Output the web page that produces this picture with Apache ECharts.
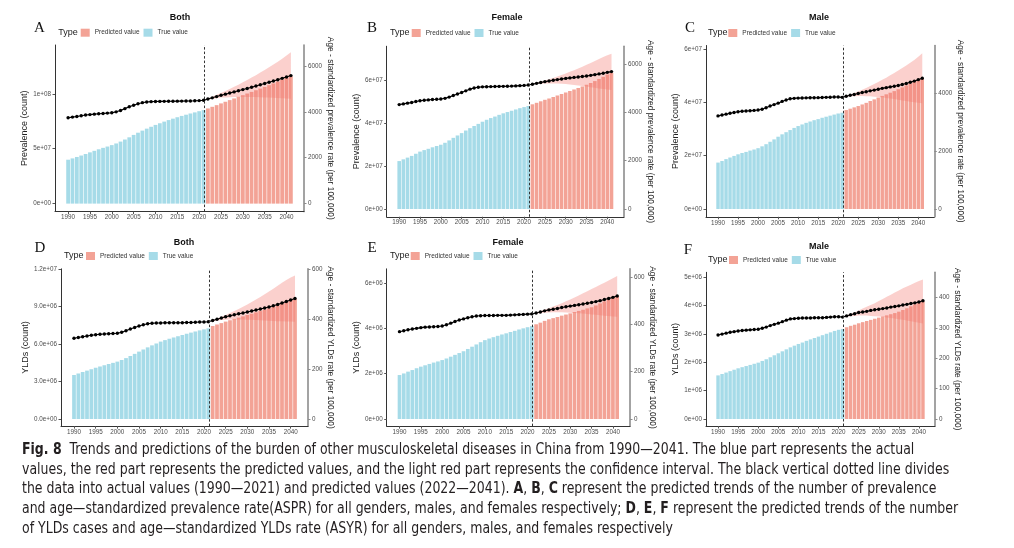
<!DOCTYPE html>
<html>
<head>
<meta charset="utf-8">
<script src="https://cdn.jsdelivr.net/npm/echarts@6/dist/echarts.min.js"></script>
<style>
html, body { margin: 0; padding: 0; background: #fff; }
#chart { width: 1014px; height: 548px; }
</style>
</head>
<body>
<div id="chart"></div>
<script>
// years
const trueYears = [1990,1991,1992,1993,1994,1995,1996,1997,1998,1999,2000,2001,2002,2003,2004,2005,2006,2007,2008,2009,2010,2011,2012,2013,2014,2015,2016,2017,2018,2019,2020,2021];
const predYears = [2022,2023,2024,2025,2026,2027,2028,2029,2030,2031,2032,2033,2034,2035,2036,2037,2038,2039,2040,2041];
const allYears = trueYears.concat(predYears);
const yearTicks = [1990,1995,2000,2005,2010,2015,2020,2025,2030,2035,2040];

// prevalence counts (millions)
const prevBothTrue = [40.0,41.2,42.5,43.8,45.2,46.7,48.1,49.5,50.8,52.0,53.3,54.8,56.5,58.4,60.4,62.6,64.6,66.5,68.3,70.0,71.7,73.2,74.7,76.1,77.4,78.7,79.9,81.0,82.1,83.1,84.2,85.2];
const prevBothPred = [86.7,88.2,89.7,91.3,92.8,94.3,95.8,97.3,98.8,100.3,101.8,103.3,104.8,106.3,107.9,109.5,111.1,112.8,114.5,116.1];
const prevFemaleTrue = [22.3,23.1,23.9,24.7,25.7,26.7,27.4,28.0,28.7,29.3,29.9,30.8,31.9,33.1,34.2,35.3,36.5,37.6,38.6,39.6,40.6,41.5,42.3,43.0,43.8,44.5,45.1,45.7,46.3,46.9,47.4,47.9];
const prevFemalePred = [48.7,49.4,50.1,50.8,51.4,52.1,52.8,53.5,54.2,54.9,55.6,56.3,57.0,57.8,58.6,59.5,60.5,61.5,62.6,63.4];
const prevMaleTrue = [17.4,18.0,18.7,19.3,19.9,20.5,21.0,21.4,21.9,22.3,22.8,23.5,24.3,25.2,26.1,27.1,28.0,28.8,29.6,30.4,31.1,31.7,32.3,32.8,33.3,33.7,34.2,34.6,35.0,35.4,35.8,36.1];
const prevMalePred = [37.1,37.6,38.1,38.6,39.2,39.8,40.5,41.1,41.8,42.4,43.0,43.6,44.2,44.9,45.6,46.3,47.0,47.7,48.4,49.0];

// age-standardized prevalence rate (per 100,000), 1990-2041, and CI for 2022-2041
const asprBoth = [3740,3770,3800,3830,3860,3880,3900,3915,3930,3945,3960,4000,4060,4140,4220,4290,4350,4400,4430,4445,4450,4455,4458,4460,4462,4465,4468,4470,4475,4480,4490,4505,4560,4610,4665,4720,4770,4820,4870,4920,4970,5020,5070,5125,5180,5235,5290,5345,5400,5460,5520,5580];
const asprBothUp = [4580,4660,4740,4820,4910,5000,5090,5185,5285,5390,5495,5600,5710,5825,5940,6060,6180,6310,6460,6600];
const asprBothLow = [4540,4560,4590,4620,4630,4640,4650,4650,4650,4650,4650,4645,4640,4630,4620,4610,4600,4590,4580,4565];
const asprFemale = [4320,4350,4380,4410,4450,4480,4500,4515,4530,4540,4555,4580,4630,4700,4760,4820,4890,4960,5010,5040,5055,5062,5066,5070,5073,5076,5080,5085,5095,5105,5115,5130,5165,5200,5235,5270,5300,5330,5355,5380,5405,5425,5445,5465,5485,5505,5530,5560,5590,5620,5655,5685];
const asprFemaleUp = [5170,5215,5265,5315,5370,5425,5485,5545,5610,5675,5745,5815,5890,5965,6045,6125,6205,6285,6360,6420];
const asprFemaleLow = [5160,5170,5180,5190,5195,5195,5190,5180,5170,5150,5130,5110,5090,5065,5040,5015,4990,4965,4945,4925];
const asprMale = [3210,3240,3270,3300,3330,3355,3370,3380,3390,3400,3415,3440,3490,3550,3600,3650,3710,3760,3800,3815,3825,3830,3832,3835,3837,3840,3845,3850,3855,3860,3860,3850,3890,3920,3950,3985,4015,4045,4075,4100,4130,4160,4185,4210,4235,4260,4295,4330,4370,4410,4460,4510];
const asprMaleUp = [3900,3950,4000,4055,4115,4175,4240,4310,4380,4455,4530,4610,4690,4775,4860,4950,5040,5135,5250,5370];
const asprMaleLow = [3880,3885,3890,3895,3895,3890,3885,3875,3865,3850,3830,3810,3790,3765,3740,3720,3700,3680,3660,3645];

// YLDs counts (millions)
const yldBothTrue = [3.52,3.64,3.76,3.87,3.98,4.10,4.20,4.30,4.40,4.49,4.59,4.72,4.87,5.04,5.21,5.39,5.56,5.73,5.89,6.04,6.19,6.31,6.42,6.52,6.62,6.72,6.82,6.91,7.00,7.09,7.17,7.25];
const yldBothPred = [7.44,7.56,7.67,7.79,7.90,8.01,8.11,8.21,8.32,8.42,8.53,8.63,8.74,8.85,8.97,9.10,9.23,9.37,9.52,9.62];
const yldFemaleTrue = [1.94,2.01,2.09,2.16,2.24,2.31,2.37,2.43,2.49,2.54,2.60,2.67,2.75,2.83,2.91,2.99,3.09,3.19,3.29,3.39,3.48,3.55,3.61,3.67,3.73,3.78,3.84,3.89,3.95,4.00,4.05,4.10];
const yldFemalePred = [4.18,4.25,4.33,4.40,4.45,4.50,4.56,4.61,4.66,4.72,4.77,4.82,4.88,4.93,5.01,5.10,5.19,5.28,5.37,5.43];
const yldMaleTrue = [1.54,1.59,1.64,1.69,1.74,1.79,1.83,1.87,1.91,1.95,1.99,2.05,2.11,2.18,2.25,2.32,2.39,2.46,2.53,2.59,2.65,2.70,2.76,2.81,2.86,2.91,2.96,3.01,3.06,3.11,3.15,3.18];
const yldMalePred = [3.24,3.29,3.33,3.38,3.42,3.46,3.50,3.54,3.58,3.62,3.66,3.70,3.74,3.79,3.85,3.91,3.98,4.05,4.12,4.16];

// age-standardized YLDs rate (per 100,000)
const asyrBoth = [323,326,329,332,335,337,339,340,341,342,343,347,353,360,366,372,377,381,383,384,384,385,385,385,385,385,386,386,387,388,388,389,394,399,404,409,413,417,421,424,428,432,436,440,444,448,453,458,464,470,476,482];
const asyrBothUp = [395,402,409,416,424,432,440,449,458,468,478,488,499,510,521,533,545,556,566,574];
const asyrBothLow = [392,394,396,397,398,398,398,398,397,397,396,395,394,393,392,391,391,390,390,389];
const asyrFemale = [369,373,377,380,383,386,388,389,390,391,393,398,405,412,418,423,428,432,435,436,437,437,437,438,438,438,439,440,441,442,443,444,448,452,457,461,464,467,471,474,477,480,483,486,489,492,496,500,505,509,514,520];
const asyrFemaleUp = [450,456,462,468,475,482,489,497,505,513,522,531,540,549,558,567,576,585,595,604];
const asyrFemaleLow = [446,447,449,450,451,451,451,450,449,448,447,446,444,442,440,438,436,435,433,432];
const asyrMale = [277,280,283,286,288,290,292,293,294,295,296,299,303,308,312,316,321,326,330,331,332,333,333,333,334,334,334,335,336,337,337,336,340,344,347,351,353,355,358,360,362,364,366,369,371,373,376,378,381,383,386,390];
const asyrMaleUp = [341,347,352,358,364,370,376,382,389,396,403,410,417,424,431,437,443,449,455,460];
const asyrMaleLow = [338,339,340,341,341,341,340,339,338,337,335,333,331,329,327,325,322,320,317,315];

// tick values and labels
const prevTicksBoth = [0, 50, 100];
const prevLabelsBoth = ['0e+00', '5e+07', '1e+08'];
const prevTicksSex = [0, 20, 40, 60];
const prevLabelsSex = ['0e+00', '2e+07', '4e+07', '6e+07'];
const yldTicksBoth = [0, 3, 6, 9, 12];
const yldLabelsBoth = ['0.0e+00', '3.0e+06', '6.0e+06', '9.0e+06', '1.2e+07'];
const yldTicksFemale = [0, 2, 4, 6];
const yldLabelsFemale = ['0e+00', '2e+06', '4e+06', '6e+06'];
const yldTicksMale = [0, 1, 2, 3, 4, 5];
const yldLabelsMale = ['0e+00', '1e+06', '2e+06', '3e+06', '4e+06', '5e+06'];
const asprTicks = [0, 2000, 4000, 6000];
const asprTicksMale = [0, 2000, 4000];
const asyrTicks = [0, 200, 400, 600];
const asyrTicksMale = [0, 100, 200, 300, 400];

const legendNames = ['Predicted value', 'True value'];
const splitYear = 2021.2;

const prevRateName = 'Age - standardized prevalence rate (per 100,000)';
const yldRateName = 'Age - standardized YLDs rate (per 100,000)';

const panels = [
  {letter: 'A', title: 'Both', bars: [prevBothTrue, prevBothPred], rate: asprBoth, up: asprBothUp, low: asprBothLow,
    lt: prevTicksBoth, ll: prevLabelsBoth, rt: asprTicks, lname: 'Prevalence (count)', rname: prevRateName,
    box: [55, 45, 249, 166.6], ly: [-7.27, 144.5], ry: [-348, 6913], gap: [20, 18.5],
    letterXY: [39.5, 28], titleXY: [180, 18], typeXY: [58.3, 32.7], legendXY: [80.7, 28.7]},
  {letter: 'B', title: 'Female', bars: [prevFemaleTrue, prevFemalePred], rate: asprFemale, up: asprFemaleUp, low: asprFemaleLow,
    lt: prevTicksSex, ll: prevLabelsSex, rt: asprTicks, lname: 'Prevalence (count)', rname: prevRateName,
    box: [386.7, 46.25, 237.3, 170.5], ly: [-3.6, 75.7], ry: [-320.7, 6735], gap: [21.5, 21.5],
    letterXY: [372, 28], titleXY: [507, 18], typeXY: [390, 33], legendXY: [411.7, 29]},
  {letter: 'C', title: 'Male', bars: [prevMaleTrue, prevMalePred], rate: asprMale, up: asprMaleUp, low: asprMaleLow,
    lt: prevTicksSex, ll: prevLabelsSex, rt: asprTicksMale, lname: 'Prevalence (count)', rname: prevRateName,
    box: [706, 45.5, 228.3, 171.3], ly: [-2.93, 61.3], ry: [-269, 5638], gap: [21.5, 14.5],
    letterXY: [690, 28], titleXY: [819, 18], typeXY: [708, 33], legendXY: [728.3, 29]},
  {letter: 'D', title: 'Both', bars: [yldBothTrue, yldBothPred], rate: asyrBoth, up: asyrBothUp, low: asyrBothLow,
    lt: yldTicksBoth, ll: yldLabelsBoth, rt: asyrTicks, lname: 'YLDs (count)', rname: yldRateName,
    box: [61, 268.85, 247, 157.3], ly: [-0.572, 12.01], ry: [-28.6, 600.6], gap: [27.5, 15.5],
    letterXY: [40, 248], titleXY: [184, 243], typeXY: [64, 256], legendXY: [86, 252]},
  {letter: 'E', title: 'Female', bars: [yldFemaleTrue, yldFemalePred], rate: asyrFemale, up: asyrFemaleUp, low: asyrFemaleLow,
    lt: yldTicksFemale, ll: yldLabelsFemale, rt: asyrTicks, lname: 'YLDs (count)', rname: yldRateName,
    box: [386.7, 268.85, 243.3, 157.3], ly: [-0.3155, 6.625], ry: [-30.2, 634.4], gap: [21.5, 15.5],
    letterXY: [372, 248], titleXY: [508, 243], typeXY: [390, 256], legendXY: [410.7, 252]},
  {letter: 'F', title: 'Male', bars: [yldMaleTrue, yldMalePred], rate: asyrMale, up: asyrMaleUp, low: asyrMaleLow,
    lt: yldTicksMale, ll: yldLabelsMale, rt: asyrTicksMale, lname: 'YLDs (count)', rname: yldRateName,
    box: [706, 272.3, 229, 153.7], ly: [-0.247, 5.18], ry: [-23.1, 483.7], gap: [20, 13.5],
    letterXY: [688, 250], titleXY: [819, 246.7], typeXY: [708, 260], legendXY: [729, 256]}
];

const sansFont = "'Liberation Sans', Arial, sans-serif";
const capFont = "'Liberation Sans Narrow', 'DejaVu Sans Condensed', 'Liberation Sans', sans-serif";
const blue = '#a6dbe8';
const red = '#f3a396';
const bandFill = 'rgba(242,118,108,0.34)';
const tickColor = '#4d4d4d';

const grids = [], xAxes = [], yAxes = [], series = [], legends = [], graphics = [];

const pairs = (xs, ys) => xs.map((x, k) => [x, ys[k]]);

panels.forEach((p, i) => {
  grids.push({left: p.box[0], top: p.box[1], width: p.box[2], height: p.box[3], containLabel: false});
  xAxes.push({
    type: 'value', gridIndex: i, min: 1987, max: 2044,
    axisLine: {show: true, onZero: false, lineStyle: {color: '#333', width: 1}},
    axisTick: {show: true, length: 2.5, customValues: yearTicks, lineStyle: {color: '#555'}},
    axisLabel: {customValues: yearTicks, margin: 3, fontSize: 6.3, color: tickColor, fontFamily: sansFont,
      formatter: v => String(v)},
    splitLine: {show: false}
  });
  yAxes.push({
    type: 'value', gridIndex: i, position: 'left', min: p.ly[0], max: p.ly[1],
    name: p.lname, nameLocation: 'middle', nameRotate: 90, nameGap: p.gap[0],
    nameTextStyle: {fontSize: 9, color: '#222', fontFamily: sansFont},
    axisLine: {show: true, onZero: false, lineStyle: {color: '#333', width: 1}},
    axisTick: {show: true, length: 2.5, customValues: p.lt, lineStyle: {color: '#555'}},
    axisLabel: {customValues: p.lt, margin: 4, fontSize: 6.3, color: tickColor, fontFamily: sansFont,
      formatter: v => p.ll[p.lt.indexOf(v)]},
    splitLine: {show: false}
  });
  yAxes.push({
    type: 'value', gridIndex: i, position: 'right', min: p.ry[0], max: p.ry[1],
    name: p.rname, nameLocation: 'middle', nameRotate: -90, nameGap: p.gap[1],
    nameTextStyle: {fontSize: 8.4, color: '#222', fontFamily: sansFont},
    axisLine: {show: true, onZero: false, lineStyle: {color: '#8c8c8c', width: 1.6}},
    axisTick: {show: true, length: 2.5, customValues: p.rt, lineStyle: {color: '#8c8c8c'}},
    axisLabel: {customValues: p.rt, margin: 4, fontSize: 6.3, color: tickColor, fontFamily: sansFont,
      formatter: v => String(v)},
    splitLine: {show: false}
  });

  series.push({
    type: 'bar', name: 'True value', xAxisIndex: i, yAxisIndex: 2 * i,
    data: pairs(trueYears, p.bars[0]), barWidth: '86%', barGap: '-100%',
    itemStyle: {color: blue},
    markLine: {
      silent: true, symbol: 'none', label: {show: false},
      lineStyle: {color: '#333', type: [2.5, 2], width: 1},
      data: [{xAxis: splitYear}]
    }
  });
  series.push({
    type: 'bar', name: 'Predicted value', xAxisIndex: i, yAxisIndex: 2 * i,
    data: pairs(predYears, p.bars[1]), barWidth: '86%', barGap: '-100%',
    itemStyle: {color: red}
  });
  series.push({
    type: 'custom', name: 'CI', xAxisIndex: i, yAxisIndex: 2 * i + 1, silent: true, z: 3,
    data: predYears.map((y, k) => [y, p.low[k], p.up[k]]),
    encode: {x: 0, y: [1, 2]},
    renderItem: (params, api) => {
      if (params.dataIndex !== 0) return;
      const pts = [];
      predYears.forEach((y, k) => pts.push(api.coord([y, p.up[k]])));
      for (let k = predYears.length - 1; k >= 0; k--) pts.push(api.coord([predYears[k], p.low[k]]));
      return {type: 'polygon', shape: {points: pts}, style: {fill: bandFill}};
    }
  });
  series.push({
    type: 'line', name: 'rate', xAxisIndex: i, yAxisIndex: 2 * i + 1, z: 4,
    data: pairs(allYears, p.rate), symbol: 'circle', symbolSize: 3.4,
    itemStyle: {color: '#000'}, lineStyle: {color: '#000', width: 1.1}
  });

  legends.push({
    data: legendNames, left: p.legendXY[0], top: p.legendXY[1], padding: 0,
    itemWidth: 9, itemHeight: 8, itemGap: 4, icon: 'rect', selectedMode: false,
    textStyle: {fontSize: 6.5, color: '#333', fontFamily: sansFont}
  });

  graphics.push({type: 'text', x: p.letterXY[0], y: p.letterXY[1],
    style: {text: p.letter, font: "15px 'Liberation Serif', 'Times New Roman', serif", fill: '#111', align: 'center', verticalAlign: 'middle'}});
  graphics.push({type: 'text', x: p.titleXY[0], y: p.titleXY[1],
    style: {text: p.title, font: "bold 9px " + sansFont, fill: '#111', align: 'center', verticalAlign: 'middle'}});
  graphics.push({type: 'text', x: p.typeXY[0], y: p.typeXY[1],
    style: {text: 'Type', font: "9px " + sansFont, fill: '#222', align: 'left', verticalAlign: 'middle'}});
});

// caption
const captionLines = [
  '{b|Fig. 8}{n|  Trends and predictions of the burden of other musculoskeletal diseases in China from 1990—2041. The blue part represents the actual}',
  '{n|values, the red part represents the predicted values, and the light red part represents the confidence interval. The black vertical dotted line divides}',
  '{n|the data into actual values (1990—2021) and predicted values (2022—2041). }{b|A}{n|, }{b|B}{n|, }{b|C}{n| represent the predicted trends of the number of prevalence}',
  '{n|and age—standardized prevalence rate(ASPR) for all genders, males, and females respectively; }{b|D}{n|, }{b|E}{n|, }{b|F}{n| represent the predicted trends of the number}',
  '{n|of YLDs cases and age—standardized YLDs rate (ASYR) for all genders, males, and females respectively}'
];
const captionY = [450, 470, 489.5, 509.3, 529];
captionLines.forEach((t, k) => {
  graphics.push({type: 'text', x: 22, y: captionY[k], scaleX: 0.928, style: {
    text: t, verticalAlign: 'middle', fill: '#231f20',
    rich: {
      b: {fontFamily: capFont, fontSize: 15, fontWeight: 'bold', fill: '#231f20'},
      n: {fontFamily: capFont, fontSize: 15, fill: '#231f20'}
    }
  }});
});

const chart = echarts.init(document.getElementById('chart'));
chart.setOption({
  animation: false,
  backgroundColor: '#fff',
  textStyle: {fontFamily: sansFont},
  grid: grids,
  xAxis: xAxes,
  yAxis: yAxes,
  legend: legends,
  series: series,
  graphic: graphics
});
</script>
</body>
</html>
